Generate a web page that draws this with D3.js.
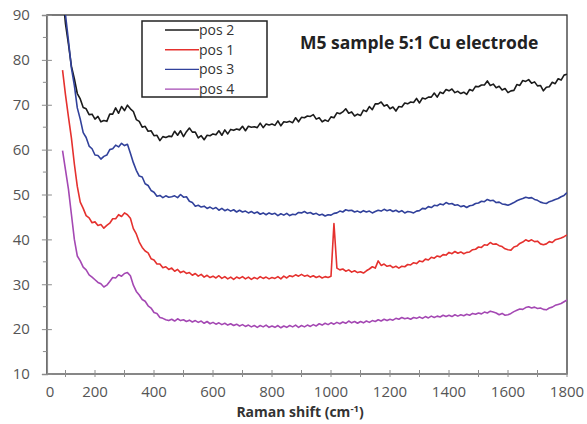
<!DOCTYPE html>
<html lang="en">
<head>
<meta charset="UTF-8">
<title>M5 sample 5:1 Cu electrode</title>
<script src="https://d3js.org/d3.v7.min.js"></script>
<style>
  body { margin: 0; background: #fff; }
  svg { display: block; font-family: "Open Sans", Arial, sans-serif; }
</style>
</head>
<body>
<div id="chart"></div>
<script>
// Raman shift sampling (cm-1): first point and spacing
const shiftStart = 90;
const shiftStep = 10;

const seriesNames = ["pos 2", "pos 1", "pos 3", "pos 4"];

// intensities, one value per 10 cm-1 from 90 to 1800
const pos2 = [95,
  88, 83.5, 78.6, 75.8, 72.5, 71.3, 69.4, 69.1, 67.8, 67.9,
  66.8, 67.4, 66.2, 66.5, 66.3, 67.9, 67.9, 69.3, 68.1, 69.6,
  68.7, 69.9, 69.1, 68.5, 66.7, 66.3, 65, 65.2, 64.1, 64.2,
  63.1, 63.2, 62, 62.9, 62.7, 63, 62.9, 64.1, 63.2, 64.2,
  62.9, 64, 64.8, 63.9, 63.9, 62.6, 63.1, 62.2, 63.2, 63.1,
  63.5, 63.3, 64.2, 63.2, 64.4, 63.5, 64.5, 64.3, 64.6, 64.4,
  65.2, 64.2, 65.2, 65, 65.1, 64.9, 65.9, 64.9, 65.7, 65.5,
  65.7, 65.4, 66.4, 65.3, 66.2, 66.1, 66.3, 66, 67.1, 66.2,
  67.2, 67.1, 67.5, 67.4, 67.8, 66.8, 67.1, 66.2, 66.6, 66.3,
  67.3, 67.1, 68.2, 68, 68.4, 69.1, 68.1, 68.4, 67.5, 67.9,
  67.6, 68.8, 68.5, 69.6, 68.9, 70.2, 70.2, 70.6, 69.7, 70,
  69.1, 69.5, 68.6, 69.6, 69.5, 70.4, 70.2, 70.6, 70.5, 71.4,
  70.4, 71.5, 71.3, 71.7, 71.7, 72.6, 71.7, 72.8, 72.5, 73.4,
  73.1, 73.5, 72.7, 73, 72.5, 72.8, 72.3, 73.4, 73.1, 74.1,
  74, 74.4, 74.4, 75.3, 74.3, 74.6, 73.8, 74.1, 73.3, 73.6,
  72.7, 73.1, 73.2, 74.5, 74.3, 75.4, 75.2, 75.6, 74.8, 75.1,
  74.2, 74.3, 73.1, 73.9, 74, 75, 74.7, 75.8, 75.5, 76.6,
  76.8];

const pos1 = [77.7,
  72.2, 67.3, 62.6, 56.8, 51.8, 48.3, 46.9, 45.3, 44.8, 43.7,
  43.9, 43.1, 43.3, 42.5, 43.1, 43.6, 44.6, 44.6, 45.5, 45.1,
  45.9, 45.5, 44.7, 42.4, 41.2, 39.4, 38.2, 37.4, 37, 35.7,
  35.4, 34.5, 34.5, 33.7, 33.9, 33.3, 33.6, 32.9, 33.3, 32.6,
  32.9, 32.4, 32.6, 32, 32.4, 31.8, 32.2, 31.6, 32, 31.5,
  31.8, 31.4, 31.9, 31.3, 31.7, 31.2, 31.6, 31.1, 31.6, 31.3,
  31.7, 31.2, 31.6, 31.1, 31.5, 31.2, 31.7, 31.3, 31.6, 31.2,
  31.5, 31.3, 31.7, 31.2, 31.8, 31.4, 31.9, 31.7, 32.1, 31.8,
  32.2, 31.8, 32, 31.6, 31.9, 31.5, 31.8, 31.4, 31.7, 31.5,
  31.8, 43.5, 33.6, 33.2, 33.4, 32.9, 33.2, 32.7, 33, 32.6,
  32.8, 32.5, 33, 33.4, 33.9, 33.6, 35.2, 34.2, 34.5, 34,
  34.2, 33.7, 34, 33.6, 34, 33.9, 34.4, 34.3, 34.8, 34.6,
  35.2, 35, 35.6, 35.4, 36, 35.8, 36.3, 36.1, 36.6, 36.5,
  37.1, 36.8, 37.3, 36.9, 37.2, 36.8, 37.1, 37.2, 37.7, 37.8,
  38.3, 38.2, 38.8, 38.7, 39.3, 38.9, 39, 38.6, 38.4, 37.9,
  37.7, 37.6, 38.3, 38.5, 39.1, 39.4, 39.9, 39.6, 39.9, 39.5,
  39.6, 39, 38.8, 39, 39.5, 39.3, 39.9, 40.1, 40.3, 40.6,
  41];

const pos3 = [96,
  90, 84.3, 78.2, 74.3, 69.3, 66.8, 63.8, 62.7, 60.8, 60.2,
  58.8, 58.7, 57.9, 58.5, 58.8, 60, 60.2, 61, 60.6, 61.4,
  60.9, 61.2, 59.2, 57.1, 55.4, 54.1, 53.9, 52.4, 52, 50.9,
  50.5, 49.6, 49.8, 49.3, 49.7, 49.4, 49.5, 49.7, 49.3, 50,
  49.4, 49.5, 48.5, 48.2, 47.4, 47.6, 47.2, 47.4, 46.9, 47.2,
  46.8, 47.1, 46.5, 46.9, 46.4, 46.7, 46.3, 46.6, 46.1, 46.5,
  46.1, 46.3, 45.9, 46.2, 45.8, 46.1, 45.6, 45.9, 45.5, 45.9,
  45.6, 45.8, 45.3, 45.7, 45.4, 45.8, 45.3, 45.6, 45.5, 46,
  45.9, 46.2, 45.8, 46, 45.6, 45.8, 45.4, 45.6, 45.2, 45.5,
  45.4, 45.8, 45.9, 46.3, 46.1, 46.6, 46.4, 46.5, 46.1, 46.3,
  46, 46.4, 46.1, 46.3, 45.9, 46.2, 46.5, 46.3, 46.7, 46.4,
  46.6, 46.2, 46.5, 46.1, 46.4, 45.9, 46.2, 46.1, 45.9, 46.3,
  46.4, 46.9, 46.8, 47.3, 47.1, 47.6, 47.5, 47.9, 47.7, 48.2,
  47.9, 48, 47.6, 47.7, 47.3, 47.5, 47.1, 47.5, 47.6, 48,
  48.1, 48.5, 48.4, 48.9, 48.6, 48.7, 48.2, 48.3, 47.9, 47.8,
  47.6, 47.9, 48.2, 48.6, 48.9, 49.1, 49.4, 49.2, 49.3, 48.9,
  48.7, 48.3, 48.1, 48, 48.4, 48.6, 48.9, 49.1, 49.5, 49.8,
  50.4];

const pos4 = [59.8,
  55.5, 51.2, 45.6, 40, 36.3, 35.2, 33.8, 33.2, 32.1, 31.6,
  31, 30.4, 30.1, 29.4, 29.8, 30.6, 31.5, 31.4, 32.1, 31.8,
  32.4, 32.6, 31.9, 29.8, 28.4, 27.6, 26.6, 26.2, 25.2, 24.7,
  23.7, 23.5, 22.6, 22.4, 22.1, 21.9, 22.2, 21.8, 22.3, 21.9,
  22.1, 21.7, 22, 21.6, 21.9, 21.5, 21.8, 21.3, 21.7, 21.2,
  21.5, 21.1, 21.4, 21, 21.3, 20.9, 21.2, 20.8, 21.1, 20.7,
  21, 20.6, 20.9, 20.5, 20.8, 20.4, 20.8, 20.5, 20.9, 20.4,
  20.7, 20.4, 20.8, 20.3, 20.7, 20.4, 20.8, 20.5, 20.9, 20.4,
  20.8, 20.5, 20.9, 20.6, 21, 20.7, 21.2, 20.9, 21.3, 21,
  21.4, 21.1, 21.5, 21.2, 21.6, 21.3, 21.8, 21.4, 21.7, 21.3,
  21.7, 21.4, 21.8, 21.5, 21.9, 21.7, 22.1, 21.8, 22.2, 21.9,
  22.2, 22, 22.4, 22.2, 22.6, 22.3, 22.5, 22.2, 22.6, 22.4,
  22.7, 22.4, 22.8, 22.5, 22.9, 22.6, 22.9, 22.7, 23.1, 22.8,
  23.1, 22.8, 23.2, 22.9, 23.2, 23, 23.3, 23.1, 23.5, 23.3,
  23.6, 23.4, 23.8, 23.6, 24, 23.8, 23.6, 23.2, 23.5, 23.1,
  23.2, 23.5, 23.9, 24.2, 24.5, 24.4, 24.8, 25, 24.7, 24.9,
  24.6, 24.7, 24.4, 24.3, 24.7, 24.9, 25.3, 25.5, 25.7, 26.1,
  26.5];

const xTickLabels = [200, 400, 600, 800, 1000, 1200, 1400, 1600, 1800];
const xMinorTicks = [100, 300, 500, 700, 900, 1100, 1300, 1500, 1700];
const yTickLabels = [10, 20, 30, 40, 50, 60, 70, 80, 90];
const yMinorTicks = [15, 25, 35, 45, 55, 65, 75, 85];

const colors = ["#1b1b1b", "#e5312e", "#31419b", "#a448b3"];
const seriesValues = [pos2, pos1, pos3, pos4];

const width = 587, height = 424;
const xAxisStart = 37;   // where the plotted range begins (axis shows "0" there)

const svg = d3.select("#chart").append("svg")
  .attr("width", width)
  .attr("height", height);

const x = d3.scaleLinear().domain([0, 1800]).range([36, 567]);
const y = d3.scaleLinear().domain([10, 90]).range([374, 15]);

const plotLeft = x(xAxisStart), plotRight = x(1800), plotTop = y(90), plotBottom = y(10);

svg.append("clipPath").attr("id", "plot-clip")
  .append("rect")
  .attr("x", plotLeft).attr("y", plotTop)
  .attr("width", plotRight - plotLeft).attr("height", plotBottom - plotTop);

// plot area frame (top/right are dark)
svg.append("rect")
  .attr("x", plotLeft).attr("y", plotTop)
  .attr("width", plotRight - plotLeft).attr("height", plotBottom - plotTop)
  .attr("fill", "none")
  .attr("stroke", "#333")
  .attr("stroke-width", 1.3);

// series
const line = d3.line()
  .x((d, i) => x(shiftStart + i * shiftStep))
  .y(d => y(d));

const plot = svg.append("g").attr("clip-path", "url(#plot-clip)");
seriesValues.forEach((vals, k) => {
  plot.append("path")
    .datum(vals)
    .attr("d", line)
    .attr("fill", "none")
    .attr("stroke", colors[k])
    .attr("stroke-width", 1.6)
    .attr("stroke-linejoin", "round");
});

// y axis
const yAxis = svg.append("g").attr("transform", `translate(${plotLeft},0)`);
yAxis.call(d3.axisLeft(y).tickValues(yTickLabels).tickSize(5).tickPadding(12))
  .call(g => g.select(".domain").attr("stroke", "#8c8c8c").attr("stroke-width", 1.3))
  .call(g => g.selectAll(".tick line").attr("stroke", "#8c8c8c").attr("x2", -5).attr("x1", 5))
  .call(g => g.selectAll(".tick text")
    .attr("font-size", 15).attr("fill", "#555")
    .attr("font-family", "'Open Sans', Arial, sans-serif"));
yAxis.selectAll(".minor")
  .data(yMinorTicks)
  .join("line")
  .attr("class", "minor")
  .attr("x1", -4).attr("x2", 0)
  .attr("y1", d => y(d)).attr("y2", d => y(d))
  .attr("stroke", "#8c8c8c");

// x axis
const xAxis = svg.append("g").attr("transform", `translate(0,${plotBottom})`);
xAxis.append("line")
  .attr("x1", plotLeft).attr("x2", plotRight)
  .attr("stroke", "#8c8c8c").attr("stroke-width", 1.3);
xAxis.selectAll(".tk")
  .data(xTickLabels.concat(xMinorTicks))
  .join("line")
  .attr("class", "tk")
  .attr("x1", d => x(d)).attr("x2", d => x(d))
  .attr("y1", -4).attr("y2", 3)
  .attr("stroke", "#8c8c8c");
xAxis.selectAll(".lbl")
  .data(xTickLabels)
  .join("text")
  .attr("class", "lbl")
  .attr("x", d => x(d))
  .attr("y", 23)
  .attr("text-anchor", "middle")
  .attr("font-size", 15)
  .attr("fill", "#555")
  .text(d => d);
xAxis.append("text")
  .attr("x", plotLeft + 3)
  .attr("y", 23)
  .attr("text-anchor", "middle")
  .attr("font-size", 15)
  .attr("fill", "#555")
  .text("0");

// x axis title
const xTitle = svg.append("text")
  .attr("x", 300)
  .attr("y", 417)
  .attr("text-anchor", "middle")
  .attr("font-size", 14)
  .attr("font-weight", "bold")
  .attr("fill", "#333");
xTitle.append("tspan").text("Raman shift (cm");
xTitle.append("tspan").attr("font-size", 9.5).attr("dy", -5).text("-1");
xTitle.append("tspan").attr("dy", 5).text(")");

// chart title
svg.append("text")
  .attr("x", 300)
  .attr("y", 49)
  .attr("font-size", 17.5)
  .attr("font-weight", "bold")
  .attr("fill", "#222")
  .text("M5 sample 5:1 Cu electrode");

// legend
const legend = svg.append("g");
legend.append("rect")
  .attr("x", 142).attr("y", 21)
  .attr("width", 125).attr("height", 76)
  .attr("fill", "#fff")
  .attr("stroke", "#222")
  .attr("stroke-width", 1.5);
const rows = legend.selectAll(".row")
  .data(seriesNames)
  .join("g")
  .attr("class", "row")
  .attr("transform", (d, i) => `translate(0,${30 + i * 19.7})`);
rows.append("line")
  .attr("x1", 165).attr("x2", 199)
  .attr("stroke", (d, i) => colors[i])
  .attr("stroke-width", 1.4);
rows.append("text")
  .attr("x", 199)
  .attr("dy", "0.35em")
  .attr("font-size", 14)
  .attr("fill", "#333")
  .text(d => d);
</script>
</body>
</html>
